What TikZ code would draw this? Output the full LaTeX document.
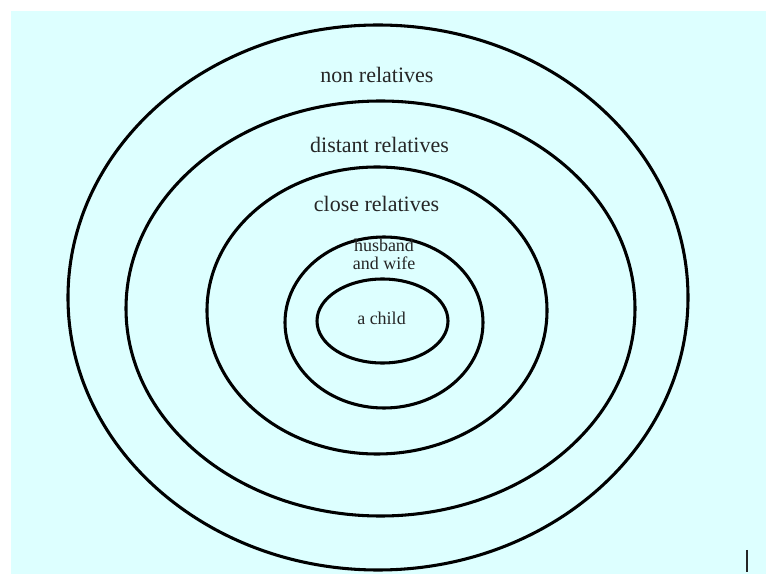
\documentclass[tikz,border=0pt]{standalone}
\usepackage{fontspec}
\setmainfont{Liberation Serif}
\definecolor{paleCyan}{RGB}{221,255,255}
\definecolor{inkGray}{RGB}{38,38,38}
\tikzset{
  ring/.style={line width=2.3pt},
  bigLabel/.style={font=\fontsize{16.5}{18}\selectfont, text=inkGray, inner sep=0pt, anchor=base},
  smallLabel/.style={font=\fontsize{13.5}{13.5}\selectfont, text=inkGray, inner sep=0pt, align=center}
}
\begin{document}
\begin{tikzpicture}[x=0.75pt,y=-0.75pt]
\useasboundingbox (0,0) rectangle (769,574);
\fill[paleCyan] (11,11) rectangle (766,574);

% the five rings, outside in
\draw[ring] (378,297.5) ellipse [x radius=310, y radius=272.5];
\draw[ring] (380.5,308.5) ellipse [x radius=254.5, y radius=207.5];
\draw[ring] (377,310.5) ellipse [x radius=170, y radius=143.5];
\draw[ring] (384,322.5) ellipse [x radius=99, y radius=85.5];
\draw[ring] (382.5,321) ellipse [x radius=65.5, y radius=42];

\node[bigLabel] (nonRel) at (377,83) {non relatives};
\node[bigLabel] (distantRel) at (379.5,153) {distant relatives};
\node[bigLabel] (closeRel) at (376.5,212) {close relatives};
\node[smallLabel] (spouses) at (384,254) {husband\\and wife};
\node[smallLabel, anchor=base] (child) at (381.5,325) {a child};

\draw[line width=1pt, inkGray] (747,550) -- (747,572);
\end{tikzpicture}
\end{document}
